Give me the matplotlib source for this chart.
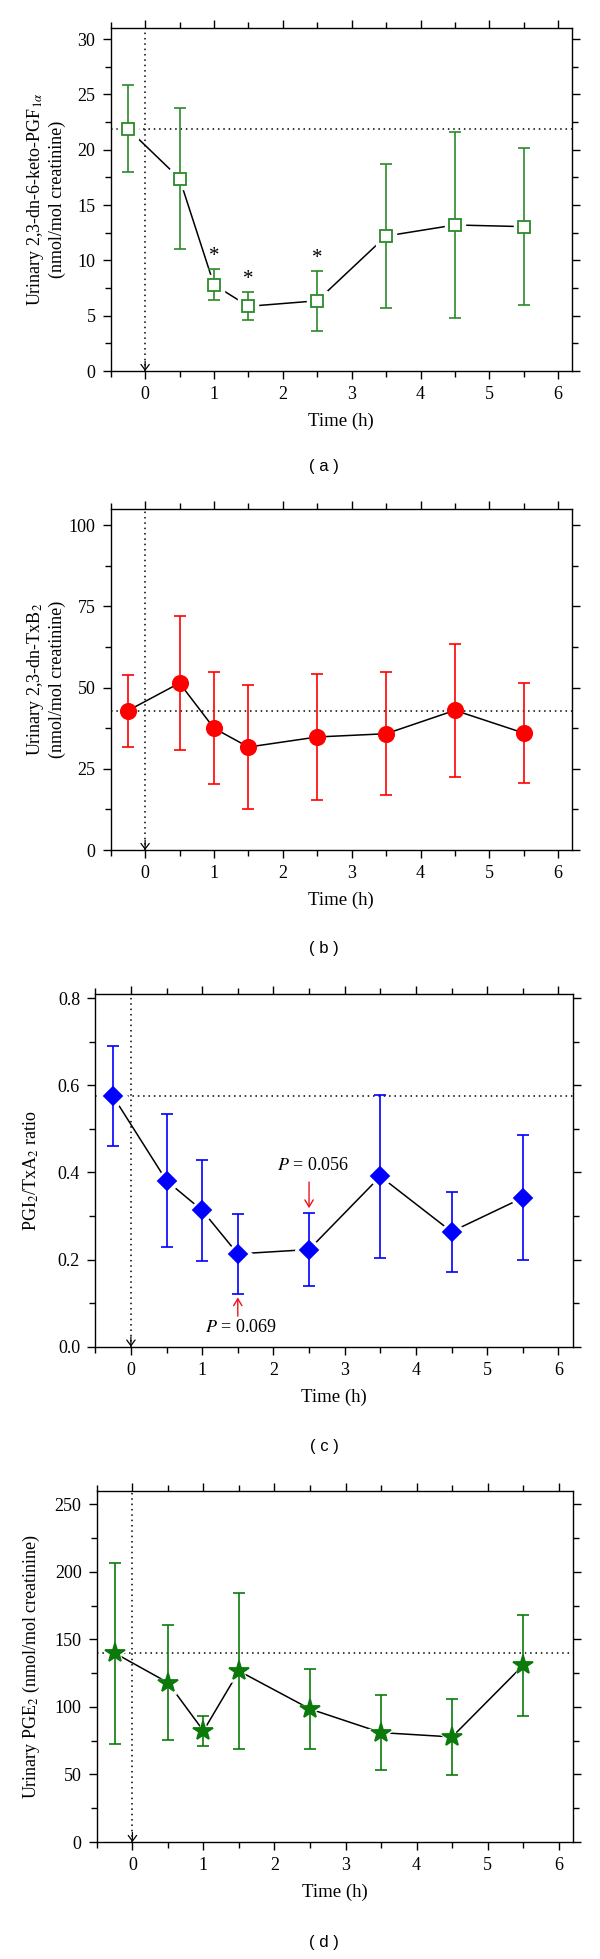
import numpy as np
import matplotlib
matplotlib.use('Agg')
import matplotlib.pyplot as plt
from matplotlib.ticker import MultipleLocator

plt.rcParams['font.family'] = ['Liberation Serif', 'DejaVu Serif']
plt.rcParams['mathtext.fontset'] = 'stix'

# Sampling times (h)
time_h = [-0.25, 0.5, 1, 1.5, 2.5, 3.5, 4.5, 5.5]

# (a) urinary 2,3-dn-6-keto-PGF1a
pgf_mean = [21.9, 17.4, 7.8, 5.85, 6.35, 12.2, 13.2, 13.05]
pgf_err = [3.95, 6.4, 1.4, 1.25, 2.7, 6.5, 8.4, 7.1]
pgf_star_times = [1, 1.5, 2.5]

# (b) urinary 2,3-dn-TxB2
txb_mean = [42.9, 51.4, 37.5, 31.7, 34.8, 35.8, 43.0, 36.0]
txb_err = [11.1, 20.5, 17.3, 19.0, 19.4, 18.9, 20.4, 15.4]

# (c) PGI2/TxA2 ratio
ratio_mean = [0.575, 0.381, 0.313, 0.213, 0.223, 0.391, 0.264, 0.342]
ratio_err = [0.115, 0.153, 0.116, 0.091, 0.084, 0.187, 0.092, 0.144]

# (d) urinary PGE2
pge_mean = [139.9, 118.0, 82.3, 126.6, 98.5, 81.0, 77.8, 130.8]
pge_err = [67.0, 42.5, 11.3, 57.7, 29.8, 28.0, 28.0, 37.3]


def style_axes(ax, ymax, ymajor, yminor):
    ax.set_xlim(-0.5, 6.2)
    ax.set_ylim(0, ymax)
    ax.xaxis.set_major_locator(MultipleLocator(1))
    ax.xaxis.set_minor_locator(MultipleLocator(0.5))
    ax.yaxis.set_major_locator(MultipleLocator(ymajor))
    ax.yaxis.set_minor_locator(MultipleLocator(yminor))
    ax.tick_params(which='both', direction='out', top=True, right=True,
                   width=1.0, labelsize=13, pad=5)
    ax.tick_params(which='major', length=6)
    ax.tick_params(which='minor', length=4)
    for s in ax.spines.values():
        s.set_linewidth(1.0)
    ax.set_xlabel('Time (h)', fontsize=13.5, labelpad=7)
    # reference lines: time zero with arrow
    ax.axvline(0, color='black', lw=1.1, ls=(0, (1, 2.5)), zorder=0)
    ax.annotate('', xy=(0, 0), xytext=(0, 7), textcoords='offset points',
                xycoords='data',
                arrowprops=dict(arrowstyle='->,head_length=0.4,head_width=0.3',
                                color='black', lw=0.9, shrinkA=0, shrinkB=0))


def draw_series(ax, mean, err, color, marker, ms, mfc, halo):
    ax.axhline(mean[0], color='black', lw=1.1, ls=(0, (1, 2.5)), zorder=0)
    ax.plot(time_h, mean, color='black', lw=1.1, zorder=1)
    if halo:
        ax.plot(time_h, mean, ls='none', marker=marker, ms=ms + 5,
                mfc='white', mec='white', zorder=2)
    ax.errorbar(time_h, mean, yerr=err, fmt='none', ecolor=color,
                elinewidth=1.2, capsize=4.5, capthick=1.2, zorder=3)
    ax.plot(time_h, mean, ls='none', marker=marker, ms=ms, mfc=mfc,
            mec=color, mew=1.3, zorder=4)


fig = plt.figure(figsize=(6, 19.59), dpi=100)

# (a)
ax1 = fig.add_axes([0.1845, 0.8106, 0.7688, 0.1751])
style_axes(ax1, 31, 5, 2.5)
draw_series(ax1, pgf_mean, pgf_err, '#2a8a2a', 's', 9, 'white', True)
for t in pgf_star_times:
    i = time_h.index(t)
    ax1.text(t, pgf_mean[i] + pgf_err[i] + 0.3, '*', ha='center', va='bottom',
             fontsize=15)
ax1.text(-0.142, 0.5, 'Urinary 2,3-dn-6-keto-PGF$_{1\\alpha}$\n(nmol/mol creatinine)',
         rotation=90, ha='center', va='center', transform=ax1.transAxes,
         fontsize=13, linespacing=1.2)

# (b)
ax2 = fig.add_axes([0.1845, 0.5661, 0.7688, 0.1741])
style_axes(ax2, 105, 25, 12.5)
draw_series(ax2, txb_mean, txb_err, '#ff0000', 'o', 11, '#ff0000', False)
ax2.text(-0.142, 0.5, 'Urinary 2,3-dn-TxB$_2$\n(nmol/mol creatinine)',
         rotation=90, ha='center', va='center', transform=ax2.transAxes,
         fontsize=13, linespacing=1.2)

# (c)
ax3 = fig.add_axes([0.1588, 0.3126, 0.7957, 0.1800])
style_axes(ax3, 0.81, 0.2, 0.1)
ax3.yaxis.set_major_formatter(matplotlib.ticker.FormatStrFormatter('%.1f'))
draw_series(ax3, ratio_mean, ratio_err, '#0000ff', 'D', 9.5, '#0000ff', True)
ax3.text(-0.135, 0.5, 'PGI$_2$/TxA$_2$ ratio', rotation=90, ha='center',
         va='center', transform=ax3.transAxes, fontsize=13)
ax3.annotate('', xy=(2.5, 0.318), xytext=(2.5, 0.378),
             arrowprops=dict(arrowstyle='->,head_length=0.5,head_width=0.3',
                             color='#e8141e', lw=1.0, shrinkA=0, shrinkB=0))
ax3.text(2.56, 0.415, '$P$ = 0.056', ha='center', va='center', fontsize=13)
ax3.annotate('', xy=(1.5, 0.113), xytext=(1.5, 0.07),
             arrowprops=dict(arrowstyle='->,head_length=0.5,head_width=0.3',
                             color='#e8141e', lw=1.0, shrinkA=0, shrinkB=0))
ax3.text(1.54, 0.043, '$P$ = 0.069', ha='center', va='center', fontsize=13)

# (d)
ax4 = fig.add_axes([0.1615, 0.0597, 0.7932, 0.1793])
style_axes(ax4, 260, 50, 25)
draw_series(ax4, pge_mean, pge_err, '#0b7a0b', '*', 15, '#0b7a0b', True)
ax4.text(-0.138, 0.5, 'Urinary PGE$_2$ (nmol/mol creatinine)', rotation=90,
         ha='center', va='center', transform=ax4.transAxes, fontsize=13)

# panel letters
for y, letter in [(0.762, 'a'), (0.516, 'b'), (0.2614, 'c'), (0.0082, 'd')]:
    fig.text(0.54, y, '( %s )' % letter, ha='center', va='center',
             fontsize=12, family=['Liberation Sans', 'DejaVu Sans'])

fig.savefig('out.png', dpi=100)
